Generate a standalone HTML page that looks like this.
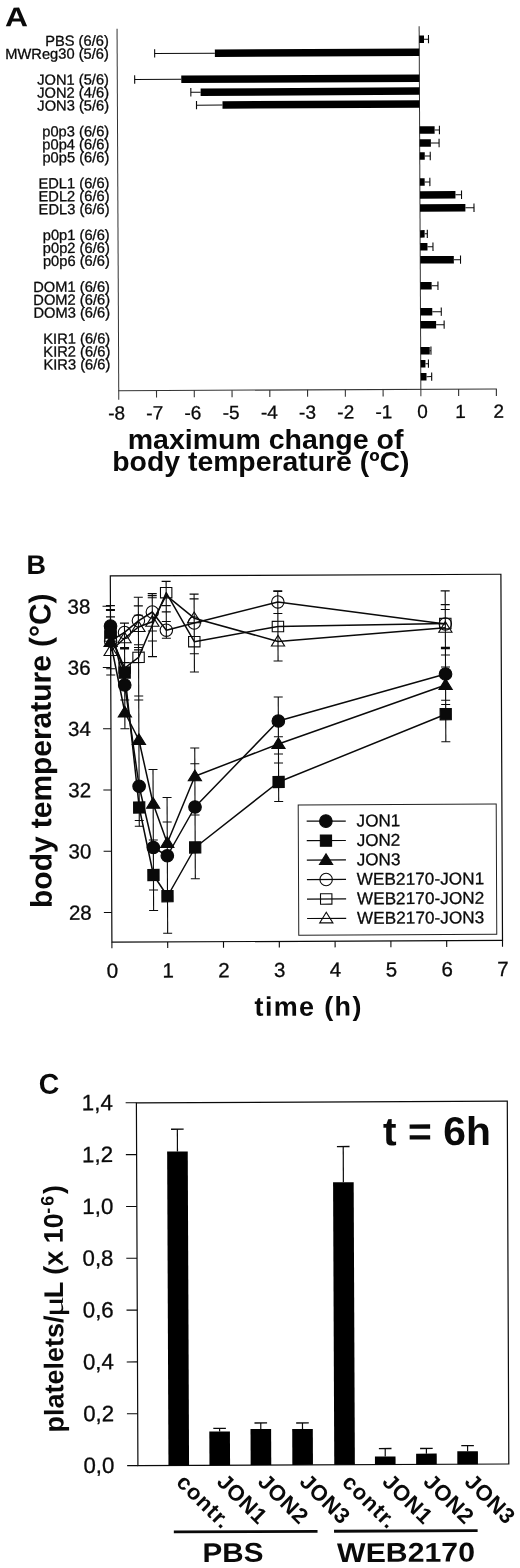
<!DOCTYPE html>
<html><head><meta charset="utf-8"><title>Figure</title>
<style>html,body{margin:0;padding:0;background:#fff;}svg{display:block;filter:grayscale(1);}text{font-family:"Liberation Sans", sans-serif;}</style></head><body>
<svg width="520" height="1568" viewBox="0 0 520 1568" font-family='"Liberation Sans", sans-serif'>
<rect x="0" y="0" width="520" height="1568" fill="#ffffff"/>
<g transform="rotate(-0.27 270 210)">
<text x="5.80" y="25.00" font-size="27" font-weight="bold" textLength="23.0" lengthAdjust="spacingAndGlyphs" fill="#0a0a0a">A</text>
<line x1="117.90" y1="28.00" x2="117.90" y2="399.00" stroke="#333" stroke-width="1.0" stroke-linecap="butt"/>
<line x1="420.00" y1="27.00" x2="420.00" y2="397.00" stroke="#333" stroke-width="1.0" stroke-linecap="butt"/>
<line x1="117.40" y1="390.00" x2="496.02" y2="390.00" stroke="#333" stroke-width="1.1" stroke-linecap="butt"/>
<line x1="155.66" y1="390.00" x2="155.66" y2="397.00" stroke="#333" stroke-width="1.1" stroke-linecap="butt"/>
<line x1="193.42" y1="390.00" x2="193.42" y2="397.00" stroke="#333" stroke-width="1.1" stroke-linecap="butt"/>
<line x1="231.19" y1="390.00" x2="231.19" y2="397.00" stroke="#333" stroke-width="1.1" stroke-linecap="butt"/>
<line x1="268.95" y1="390.00" x2="268.95" y2="397.00" stroke="#333" stroke-width="1.1" stroke-linecap="butt"/>
<line x1="306.71" y1="390.00" x2="306.71" y2="397.00" stroke="#333" stroke-width="1.1" stroke-linecap="butt"/>
<line x1="344.48" y1="390.00" x2="344.48" y2="397.00" stroke="#333" stroke-width="1.1" stroke-linecap="butt"/>
<line x1="382.24" y1="390.00" x2="382.24" y2="397.00" stroke="#333" stroke-width="1.1" stroke-linecap="butt"/>
<line x1="457.76" y1="390.00" x2="457.76" y2="397.00" stroke="#333" stroke-width="1.1" stroke-linecap="butt"/>
<line x1="495.52" y1="390.00" x2="495.52" y2="397.00" stroke="#333" stroke-width="1.1" stroke-linecap="butt"/>
<text x="115.60" y="418.80" font-size="19" text-anchor="middle" fill="#0a0a0a" stroke="#0a0a0a" stroke-width="0.3">-8</text>
<text x="153.80" y="418.80" font-size="19" text-anchor="middle" fill="#0a0a0a" stroke="#0a0a0a" stroke-width="0.3">-7</text>
<text x="192.00" y="418.80" font-size="19" text-anchor="middle" fill="#0a0a0a" stroke="#0a0a0a" stroke-width="0.3">-6</text>
<text x="230.20" y="418.80" font-size="19" text-anchor="middle" fill="#0a0a0a" stroke="#0a0a0a" stroke-width="0.3">-5</text>
<text x="268.40" y="418.80" font-size="19" text-anchor="middle" fill="#0a0a0a" stroke="#0a0a0a" stroke-width="0.3">-4</text>
<text x="306.60" y="418.80" font-size="19" text-anchor="middle" fill="#0a0a0a" stroke="#0a0a0a" stroke-width="0.3">-3</text>
<text x="344.80" y="418.80" font-size="19" text-anchor="middle" fill="#0a0a0a" stroke="#0a0a0a" stroke-width="0.3">-2</text>
<text x="383.00" y="418.80" font-size="19" text-anchor="middle" fill="#0a0a0a" stroke="#0a0a0a" stroke-width="0.3">-1</text>
<text x="421.60" y="418.80" font-size="19" text-anchor="middle" fill="#0a0a0a" stroke="#0a0a0a" stroke-width="0.3">0</text>
<text x="459.66" y="418.80" font-size="19" text-anchor="middle" fill="#0a0a0a" stroke="#0a0a0a" stroke-width="0.3">1</text>
<text x="497.73" y="418.80" font-size="19" text-anchor="middle" fill="#0a0a0a" stroke="#0a0a0a" stroke-width="0.3">2</text>
<text x="109.60" y="44.90" font-size="14.7" text-anchor="end" fill="#0a0a0a" stroke="#0a0a0a" stroke-width="0.3">PBS (6/6)</text>
<text x="109.60" y="57.84" font-size="14.7" text-anchor="end" fill="#0a0a0a" stroke="#0a0a0a" stroke-width="0.3">MWReg30 (5/6)</text>
<text x="109.60" y="83.73" font-size="14.7" text-anchor="end" fill="#0a0a0a" stroke="#0a0a0a" stroke-width="0.3">JON1 (5/6)</text>
<text x="109.60" y="96.68" font-size="14.7" text-anchor="end" fill="#0a0a0a" stroke="#0a0a0a" stroke-width="0.3">JON2 (4/6)</text>
<text x="109.60" y="109.62" font-size="14.7" text-anchor="end" fill="#0a0a0a" stroke="#0a0a0a" stroke-width="0.3">JON3 (5/6)</text>
<text x="109.60" y="135.52" font-size="14.7" text-anchor="end" fill="#0a0a0a" stroke="#0a0a0a" stroke-width="0.3">p0p3 (6/6)</text>
<text x="109.60" y="148.46" font-size="14.7" text-anchor="end" fill="#0a0a0a" stroke="#0a0a0a" stroke-width="0.3">p0p4 (6/6)</text>
<text x="109.60" y="161.41" font-size="14.7" text-anchor="end" fill="#0a0a0a" stroke="#0a0a0a" stroke-width="0.3">p0p5 (6/6)</text>
<text x="109.60" y="187.30" font-size="14.7" text-anchor="end" fill="#0a0a0a" stroke="#0a0a0a" stroke-width="0.3">EDL1 (6/6)</text>
<text x="109.60" y="200.24" font-size="14.7" text-anchor="end" fill="#0a0a0a" stroke="#0a0a0a" stroke-width="0.3">EDL2 (6/6)</text>
<text x="109.60" y="213.19" font-size="14.7" text-anchor="end" fill="#0a0a0a" stroke="#0a0a0a" stroke-width="0.3">EDL3 (6/6)</text>
<text x="109.60" y="239.08" font-size="14.7" text-anchor="end" fill="#0a0a0a" stroke="#0a0a0a" stroke-width="0.3">p0p1 (6/6)</text>
<text x="109.60" y="252.02" font-size="14.7" text-anchor="end" fill="#0a0a0a" stroke="#0a0a0a" stroke-width="0.3">p0p2 (6/6)</text>
<text x="109.60" y="264.96" font-size="14.7" text-anchor="end" fill="#0a0a0a" stroke="#0a0a0a" stroke-width="0.3">p0p6 (6/6)</text>
<text x="109.60" y="290.86" font-size="14.7" text-anchor="end" fill="#0a0a0a" stroke="#0a0a0a" stroke-width="0.3">DOM1 (6/6)</text>
<text x="109.60" y="303.80" font-size="14.7" text-anchor="end" fill="#0a0a0a" stroke="#0a0a0a" stroke-width="0.3">DOM2 (6/6)</text>
<text x="109.60" y="316.75" font-size="14.7" text-anchor="end" fill="#0a0a0a" stroke="#0a0a0a" stroke-width="0.3">DOM3 (6/6)</text>
<text x="109.60" y="342.63" font-size="14.7" text-anchor="end" fill="#0a0a0a" stroke="#0a0a0a" stroke-width="0.3">KIR1 (6/6)</text>
<text x="109.60" y="355.58" font-size="14.7" text-anchor="end" fill="#0a0a0a" stroke="#0a0a0a" stroke-width="0.3">KIR2 (6/6)</text>
<text x="109.60" y="368.52" font-size="14.7" text-anchor="end" fill="#0a0a0a" stroke="#0a0a0a" stroke-width="0.3">KIR3 (6/6)</text>
<rect x="420.00" y="36.15" width="4.80" height="7.50" fill="#000"/>
<line x1="424.80" y1="39.90" x2="429.30" y2="39.90" stroke="#0a0a0a" stroke-width="1.0" stroke-linecap="butt"/>
<line x1="429.30" y1="35.70" x2="429.30" y2="44.10" stroke="#0a0a0a" stroke-width="1.1" stroke-linecap="butt"/>
<rect x="215.60" y="49.13" width="204.40" height="7.50" fill="#000"/>
<line x1="215.60" y1="52.88" x2="155.40" y2="52.88" stroke="#0a0a0a" stroke-width="1.0" stroke-linecap="butt"/>
<line x1="155.40" y1="48.68" x2="155.40" y2="57.08" stroke="#0a0a0a" stroke-width="1.1" stroke-linecap="butt"/>
<rect x="181.90" y="75.09" width="238.10" height="7.50" fill="#000"/>
<line x1="181.90" y1="78.84" x2="135.30" y2="78.84" stroke="#0a0a0a" stroke-width="1.0" stroke-linecap="butt"/>
<line x1="135.30" y1="74.64" x2="135.30" y2="83.04" stroke="#0a0a0a" stroke-width="1.1" stroke-linecap="butt"/>
<rect x="201.20" y="88.07" width="218.80" height="7.50" fill="#000"/>
<line x1="201.20" y1="91.82" x2="191.40" y2="91.82" stroke="#0a0a0a" stroke-width="1.0" stroke-linecap="butt"/>
<line x1="191.40" y1="87.62" x2="191.40" y2="96.02" stroke="#0a0a0a" stroke-width="1.1" stroke-linecap="butt"/>
<rect x="223.00" y="101.05" width="197.00" height="7.50" fill="#000"/>
<line x1="223.00" y1="104.80" x2="197.00" y2="104.80" stroke="#0a0a0a" stroke-width="1.0" stroke-linecap="butt"/>
<line x1="197.00" y1="100.60" x2="197.00" y2="109.00" stroke="#0a0a0a" stroke-width="1.1" stroke-linecap="butt"/>
<rect x="420.00" y="127.01" width="15.00" height="7.50" fill="#000"/>
<line x1="435.00" y1="130.76" x2="439.80" y2="130.76" stroke="#0a0a0a" stroke-width="1.0" stroke-linecap="butt"/>
<line x1="439.80" y1="126.56" x2="439.80" y2="134.96" stroke="#0a0a0a" stroke-width="1.1" stroke-linecap="butt"/>
<rect x="420.00" y="139.99" width="11.20" height="7.50" fill="#000"/>
<line x1="431.20" y1="143.74" x2="439.40" y2="143.74" stroke="#0a0a0a" stroke-width="1.0" stroke-linecap="butt"/>
<line x1="439.40" y1="139.54" x2="439.40" y2="147.94" stroke="#0a0a0a" stroke-width="1.1" stroke-linecap="butt"/>
<rect x="420.00" y="152.97" width="5.00" height="7.50" fill="#000"/>
<line x1="425.00" y1="156.72" x2="430.50" y2="156.72" stroke="#0a0a0a" stroke-width="1.0" stroke-linecap="butt"/>
<line x1="430.50" y1="152.52" x2="430.50" y2="160.92" stroke="#0a0a0a" stroke-width="1.1" stroke-linecap="butt"/>
<rect x="420.00" y="178.93" width="4.80" height="7.50" fill="#000"/>
<line x1="424.80" y1="182.68" x2="430.00" y2="182.68" stroke="#0a0a0a" stroke-width="1.0" stroke-linecap="butt"/>
<line x1="430.00" y1="178.48" x2="430.00" y2="186.88" stroke="#0a0a0a" stroke-width="1.1" stroke-linecap="butt"/>
<rect x="420.00" y="191.91" width="35.50" height="7.50" fill="#000"/>
<line x1="455.50" y1="195.66" x2="461.60" y2="195.66" stroke="#0a0a0a" stroke-width="1.0" stroke-linecap="butt"/>
<line x1="461.60" y1="191.46" x2="461.60" y2="199.86" stroke="#0a0a0a" stroke-width="1.1" stroke-linecap="butt"/>
<rect x="420.00" y="204.89" width="45.40" height="7.50" fill="#000"/>
<line x1="465.40" y1="208.64" x2="474.00" y2="208.64" stroke="#0a0a0a" stroke-width="1.0" stroke-linecap="butt"/>
<line x1="474.00" y1="204.44" x2="474.00" y2="212.84" stroke="#0a0a0a" stroke-width="1.1" stroke-linecap="butt"/>
<rect x="420.00" y="230.85" width="4.50" height="7.50" fill="#000"/>
<line x1="424.50" y1="234.60" x2="427.20" y2="234.60" stroke="#0a0a0a" stroke-width="1.0" stroke-linecap="butt"/>
<line x1="427.20" y1="230.40" x2="427.20" y2="238.80" stroke="#0a0a0a" stroke-width="1.1" stroke-linecap="butt"/>
<rect x="420.00" y="243.83" width="7.30" height="7.50" fill="#000"/>
<line x1="427.30" y1="247.58" x2="432.80" y2="247.58" stroke="#0a0a0a" stroke-width="1.0" stroke-linecap="butt"/>
<line x1="432.80" y1="243.38" x2="432.80" y2="251.78" stroke="#0a0a0a" stroke-width="1.1" stroke-linecap="butt"/>
<rect x="420.00" y="256.81" width="33.60" height="7.50" fill="#000"/>
<line x1="453.60" y1="260.56" x2="460.30" y2="260.56" stroke="#0a0a0a" stroke-width="1.0" stroke-linecap="butt"/>
<line x1="460.30" y1="256.36" x2="460.30" y2="264.76" stroke="#0a0a0a" stroke-width="1.1" stroke-linecap="butt"/>
<rect x="420.00" y="282.77" width="11.30" height="7.50" fill="#000"/>
<line x1="431.30" y1="286.52" x2="437.60" y2="286.52" stroke="#0a0a0a" stroke-width="1.0" stroke-linecap="butt"/>
<line x1="437.60" y1="282.32" x2="437.60" y2="290.72" stroke="#0a0a0a" stroke-width="1.1" stroke-linecap="butt"/>
<rect x="420.00" y="308.73" width="11.80" height="7.50" fill="#000"/>
<line x1="431.80" y1="312.48" x2="440.80" y2="312.48" stroke="#0a0a0a" stroke-width="1.0" stroke-linecap="butt"/>
<line x1="440.80" y1="308.28" x2="440.80" y2="316.68" stroke="#0a0a0a" stroke-width="1.1" stroke-linecap="butt"/>
<rect x="420.00" y="321.71" width="15.60" height="7.50" fill="#000"/>
<line x1="435.60" y1="325.46" x2="443.60" y2="325.46" stroke="#0a0a0a" stroke-width="1.0" stroke-linecap="butt"/>
<line x1="443.60" y1="321.26" x2="443.60" y2="329.66" stroke="#0a0a0a" stroke-width="1.1" stroke-linecap="butt"/>
<rect x="420.00" y="347.67" width="9.10" height="7.50" fill="#000"/>
<line x1="429.10" y1="351.42" x2="430.30" y2="351.42" stroke="#0a0a0a" stroke-width="1.0" stroke-linecap="butt"/>
<line x1="430.30" y1="347.22" x2="430.30" y2="355.62" stroke="#0a0a0a" stroke-width="1.1" stroke-linecap="butt"/>
<rect x="420.00" y="360.65" width="4.70" height="7.50" fill="#000"/>
<line x1="424.70" y1="364.40" x2="427.70" y2="364.40" stroke="#0a0a0a" stroke-width="1.0" stroke-linecap="butt"/>
<line x1="427.70" y1="360.20" x2="427.70" y2="368.60" stroke="#0a0a0a" stroke-width="1.1" stroke-linecap="butt"/>
<rect x="420.00" y="373.63" width="5.70" height="7.50" fill="#000"/>
<line x1="425.70" y1="377.38" x2="430.90" y2="377.38" stroke="#0a0a0a" stroke-width="1.0" stroke-linecap="butt"/>
<line x1="430.90" y1="373.18" x2="430.90" y2="381.58" stroke="#0a0a0a" stroke-width="1.1" stroke-linecap="butt"/>
</g>
<text x="127.70" y="449.00" font-size="27" font-weight="bold" textLength="275.7" lengthAdjust="spacingAndGlyphs" fill="#0a0a0a">maximum change of</text>
<text x="112.30" y="471.20" font-size="27" font-weight="bold" textLength="297.2" lengthAdjust="spacingAndGlyphs" fill="#0a0a0a">body temperature (ºC)</text>
<g transform="rotate(-0.25 306.4 758.2)">
<text x="27.20" y="572.70" font-size="27" font-weight="bold" textLength="19.5" lengthAdjust="spacingAndGlyphs" fill="#0a0a0a">B</text>
<rect x="111.10" y="575.10" width="390.60" height="366.20" fill="none" stroke="#0a0a0a" stroke-width="1.2"/>
<line x1="103.20" y1="911.60" x2="111.10" y2="911.60" stroke="#0a0a0a" stroke-width="1.1" stroke-linecap="butt"/>
<text x="91.00" y="918.80" font-size="20.5" text-anchor="end" fill="#0a0a0a" stroke="#0a0a0a" stroke-width="0.3">28</text>
<line x1="103.20" y1="850.36" x2="111.10" y2="850.36" stroke="#0a0a0a" stroke-width="1.1" stroke-linecap="butt"/>
<text x="91.00" y="857.56" font-size="20.5" text-anchor="end" fill="#0a0a0a" stroke="#0a0a0a" stroke-width="0.3">30</text>
<line x1="103.20" y1="789.12" x2="111.10" y2="789.12" stroke="#0a0a0a" stroke-width="1.1" stroke-linecap="butt"/>
<text x="91.00" y="796.32" font-size="20.5" text-anchor="end" fill="#0a0a0a" stroke="#0a0a0a" stroke-width="0.3">32</text>
<line x1="103.20" y1="727.88" x2="111.10" y2="727.88" stroke="#0a0a0a" stroke-width="1.1" stroke-linecap="butt"/>
<text x="91.00" y="735.08" font-size="20.5" text-anchor="end" fill="#0a0a0a" stroke="#0a0a0a" stroke-width="0.3">34</text>
<line x1="103.20" y1="666.64" x2="111.10" y2="666.64" stroke="#0a0a0a" stroke-width="1.1" stroke-linecap="butt"/>
<text x="91.00" y="673.84" font-size="20.5" text-anchor="end" fill="#0a0a0a" stroke="#0a0a0a" stroke-width="0.3">36</text>
<line x1="103.20" y1="605.40" x2="111.10" y2="605.40" stroke="#0a0a0a" stroke-width="1.1" stroke-linecap="butt"/>
<text x="91.00" y="612.60" font-size="20.5" text-anchor="end" fill="#0a0a0a" stroke="#0a0a0a" stroke-width="0.3">38</text>
<line x1="111.10" y1="941.30" x2="111.10" y2="947.50" stroke="#0a0a0a" stroke-width="1.1" stroke-linecap="butt"/>
<text x="111.40" y="976.80" font-size="20.5" text-anchor="middle" fill="#0a0a0a" stroke="#0a0a0a" stroke-width="0.3">0</text>
<line x1="166.90" y1="941.30" x2="166.90" y2="947.50" stroke="#0a0a0a" stroke-width="1.1" stroke-linecap="butt"/>
<text x="167.20" y="976.80" font-size="20.5" text-anchor="middle" fill="#0a0a0a" stroke="#0a0a0a" stroke-width="0.3">1</text>
<line x1="222.70" y1="941.30" x2="222.70" y2="947.50" stroke="#0a0a0a" stroke-width="1.1" stroke-linecap="butt"/>
<text x="223.00" y="976.80" font-size="20.5" text-anchor="middle" fill="#0a0a0a" stroke="#0a0a0a" stroke-width="0.3">2</text>
<line x1="278.50" y1="941.30" x2="278.50" y2="947.50" stroke="#0a0a0a" stroke-width="1.1" stroke-linecap="butt"/>
<text x="278.80" y="976.80" font-size="20.5" text-anchor="middle" fill="#0a0a0a" stroke="#0a0a0a" stroke-width="0.3">3</text>
<line x1="334.30" y1="941.30" x2="334.30" y2="947.50" stroke="#0a0a0a" stroke-width="1.1" stroke-linecap="butt"/>
<text x="334.60" y="976.80" font-size="20.5" text-anchor="middle" fill="#0a0a0a" stroke="#0a0a0a" stroke-width="0.3">4</text>
<line x1="390.10" y1="941.30" x2="390.10" y2="947.50" stroke="#0a0a0a" stroke-width="1.1" stroke-linecap="butt"/>
<text x="390.40" y="976.80" font-size="20.5" text-anchor="middle" fill="#0a0a0a" stroke="#0a0a0a" stroke-width="0.3">5</text>
<line x1="445.90" y1="941.30" x2="445.90" y2="947.50" stroke="#0a0a0a" stroke-width="1.1" stroke-linecap="butt"/>
<text x="446.20" y="976.80" font-size="20.5" text-anchor="middle" fill="#0a0a0a" stroke="#0a0a0a" stroke-width="0.3">6</text>
<line x1="501.70" y1="941.30" x2="501.70" y2="947.50" stroke="#0a0a0a" stroke-width="1.1" stroke-linecap="butt"/>
<text x="502.00" y="976.80" font-size="20.5" text-anchor="middle" fill="#0a0a0a" stroke="#0a0a0a" stroke-width="0.3">7</text>
<text x="253.50" y="1015.60" font-size="27" font-weight="bold" textLength="106.8" lengthAdjust="spacing" fill="#0a0a0a">time (h)</text>
<text transform="translate(51.0 906.8) rotate(-90)" font-size="30" font-weight="bold" textLength="314.5" lengthAdjust="spacing" fill="#0a0a0a">body temperature (°C)</text>
<line x1="111.10" y1="604.75" x2="111.10" y2="674.15" stroke="#0a0a0a" stroke-width="1.1" stroke-linecap="butt"/>
<line x1="106.60" y1="604.75" x2="115.60" y2="604.75" stroke="#0a0a0a" stroke-width="1.1" stroke-linecap="butt"/>
<line x1="106.60" y1="609.15" x2="115.60" y2="609.15" stroke="#0a0a0a" stroke-width="2.2" stroke-linecap="butt"/>
<line x1="106.60" y1="616.05" x2="115.60" y2="616.05" stroke="#0a0a0a" stroke-width="1.1" stroke-linecap="butt"/>
<line x1="106.60" y1="667.90" x2="115.60" y2="667.90" stroke="#0a0a0a" stroke-width="1.1" stroke-linecap="butt"/>
<line x1="106.60" y1="674.15" x2="115.60" y2="674.15" stroke="#0a0a0a" stroke-width="1.1" stroke-linecap="butt"/>
<line x1="125.05" y1="622.31" x2="125.05" y2="727.96" stroke="#0a0a0a" stroke-width="1.1" stroke-linecap="butt"/>
<line x1="120.55" y1="622.31" x2="129.55" y2="622.31" stroke="#0a0a0a" stroke-width="1.1" stroke-linecap="butt"/>
<line x1="120.55" y1="647.41" x2="129.55" y2="647.41" stroke="#0a0a0a" stroke-width="2.4" stroke-linecap="butt"/>
<line x1="120.55" y1="661.71" x2="129.55" y2="661.71" stroke="#0a0a0a" stroke-width="1.1" stroke-linecap="butt"/>
<line x1="120.55" y1="699.21" x2="129.55" y2="699.21" stroke="#0a0a0a" stroke-width="1.1" stroke-linecap="butt"/>
<line x1="120.55" y1="727.96" x2="129.55" y2="727.96" stroke="#0a0a0a" stroke-width="1.1" stroke-linecap="butt"/>
<line x1="139.00" y1="596.47" x2="139.00" y2="825.52" stroke="#0a0a0a" stroke-width="1.1" stroke-linecap="butt"/>
<line x1="134.50" y1="596.47" x2="143.50" y2="596.47" stroke="#0a0a0a" stroke-width="1.1" stroke-linecap="butt"/>
<line x1="134.50" y1="605.17" x2="143.50" y2="605.17" stroke="#0a0a0a" stroke-width="1.1" stroke-linecap="butt"/>
<line x1="134.50" y1="614.47" x2="143.50" y2="614.47" stroke="#0a0a0a" stroke-width="1.1" stroke-linecap="butt"/>
<line x1="134.50" y1="644.07" x2="143.50" y2="644.07" stroke="#0a0a0a" stroke-width="1.1" stroke-linecap="butt"/>
<line x1="134.50" y1="646.77" x2="143.50" y2="646.77" stroke="#0a0a0a" stroke-width="1.1" stroke-linecap="butt"/>
<line x1="134.50" y1="649.17" x2="143.50" y2="649.17" stroke="#0a0a0a" stroke-width="1.1" stroke-linecap="butt"/>
<line x1="134.50" y1="695.27" x2="143.50" y2="695.27" stroke="#0a0a0a" stroke-width="1.1" stroke-linecap="butt"/>
<line x1="134.50" y1="699.27" x2="143.50" y2="699.27" stroke="#0a0a0a" stroke-width="1.1" stroke-linecap="butt"/>
<line x1="134.50" y1="819.77" x2="143.50" y2="819.77" stroke="#0a0a0a" stroke-width="1.1" stroke-linecap="butt"/>
<line x1="134.50" y1="825.52" x2="143.50" y2="825.52" stroke="#0a0a0a" stroke-width="1.1" stroke-linecap="butt"/>
<line x1="152.95" y1="592.93" x2="152.95" y2="655.93" stroke="#0a0a0a" stroke-width="1.1" stroke-linecap="butt"/>
<line x1="152.95" y1="768.83" x2="152.95" y2="909.83" stroke="#0a0a0a" stroke-width="1.1" stroke-linecap="butt"/>
<line x1="148.45" y1="592.93" x2="157.45" y2="592.93" stroke="#0a0a0a" stroke-width="1.1" stroke-linecap="butt"/>
<line x1="148.45" y1="594.93" x2="157.45" y2="594.93" stroke="#0a0a0a" stroke-width="1.1" stroke-linecap="butt"/>
<line x1="148.45" y1="597.13" x2="157.45" y2="597.13" stroke="#0a0a0a" stroke-width="1.1" stroke-linecap="butt"/>
<line x1="148.45" y1="630.33" x2="157.45" y2="630.33" stroke="#0a0a0a" stroke-width="1.1" stroke-linecap="butt"/>
<line x1="148.45" y1="640.33" x2="157.45" y2="640.33" stroke="#0a0a0a" stroke-width="1.1" stroke-linecap="butt"/>
<line x1="148.45" y1="655.93" x2="157.45" y2="655.93" stroke="#0a0a0a" stroke-width="1.1" stroke-linecap="butt"/>
<line x1="148.45" y1="768.83" x2="157.45" y2="768.83" stroke="#0a0a0a" stroke-width="1.1" stroke-linecap="butt"/>
<line x1="148.45" y1="839.33" x2="157.45" y2="839.33" stroke="#0a0a0a" stroke-width="1.1" stroke-linecap="butt"/>
<line x1="148.45" y1="889.33" x2="157.45" y2="889.33" stroke="#0a0a0a" stroke-width="1.1" stroke-linecap="butt"/>
<line x1="148.45" y1="909.83" x2="157.45" y2="909.83" stroke="#0a0a0a" stroke-width="1.1" stroke-linecap="butt"/>
<line x1="166.90" y1="580.79" x2="166.90" y2="637.69" stroke="#0a0a0a" stroke-width="1.1" stroke-linecap="butt"/>
<line x1="166.90" y1="796.89" x2="166.90" y2="932.64" stroke="#0a0a0a" stroke-width="1.1" stroke-linecap="butt"/>
<line x1="162.40" y1="580.79" x2="171.40" y2="580.79" stroke="#0a0a0a" stroke-width="1.1" stroke-linecap="butt"/>
<line x1="162.40" y1="605.04" x2="171.40" y2="605.04" stroke="#0a0a0a" stroke-width="1.1" stroke-linecap="butt"/>
<line x1="162.40" y1="611.29" x2="171.40" y2="611.29" stroke="#0a0a0a" stroke-width="1.1" stroke-linecap="butt"/>
<line x1="162.40" y1="620.89" x2="171.40" y2="620.89" stroke="#0a0a0a" stroke-width="1.1" stroke-linecap="butt"/>
<line x1="162.40" y1="637.69" x2="171.40" y2="637.69" stroke="#0a0a0a" stroke-width="1.1" stroke-linecap="butt"/>
<line x1="162.40" y1="796.89" x2="171.40" y2="796.89" stroke="#0a0a0a" stroke-width="1.1" stroke-linecap="butt"/>
<line x1="162.40" y1="821.39" x2="171.40" y2="821.39" stroke="#0a0a0a" stroke-width="1.1" stroke-linecap="butt"/>
<line x1="162.40" y1="932.64" x2="171.40" y2="932.64" stroke="#0a0a0a" stroke-width="1.1" stroke-linecap="butt"/>
<line x1="194.80" y1="593.61" x2="194.80" y2="671.51" stroke="#0a0a0a" stroke-width="1.1" stroke-linecap="butt"/>
<line x1="194.80" y1="747.51" x2="194.80" y2="878.26" stroke="#0a0a0a" stroke-width="1.1" stroke-linecap="butt"/>
<line x1="190.30" y1="593.61" x2="199.30" y2="593.61" stroke="#0a0a0a" stroke-width="1.1" stroke-linecap="butt"/>
<line x1="190.30" y1="598.41" x2="199.30" y2="598.41" stroke="#0a0a0a" stroke-width="1.1" stroke-linecap="butt"/>
<line x1="190.30" y1="653.26" x2="199.30" y2="653.26" stroke="#0a0a0a" stroke-width="1.1" stroke-linecap="butt"/>
<line x1="190.30" y1="671.51" x2="199.30" y2="671.51" stroke="#0a0a0a" stroke-width="1.1" stroke-linecap="butt"/>
<line x1="190.30" y1="747.51" x2="199.30" y2="747.51" stroke="#0a0a0a" stroke-width="1.1" stroke-linecap="butt"/>
<line x1="190.30" y1="763.26" x2="199.30" y2="763.26" stroke="#0a0a0a" stroke-width="1.1" stroke-linecap="butt"/>
<line x1="190.30" y1="814.51" x2="199.30" y2="814.51" stroke="#0a0a0a" stroke-width="1.1" stroke-linecap="butt"/>
<line x1="190.30" y1="878.26" x2="199.30" y2="878.26" stroke="#0a0a0a" stroke-width="1.1" stroke-linecap="butt"/>
<line x1="278.50" y1="591.08" x2="278.50" y2="660.88" stroke="#0a0a0a" stroke-width="1.1" stroke-linecap="butt"/>
<line x1="278.50" y1="696.88" x2="278.50" y2="801.38" stroke="#0a0a0a" stroke-width="1.1" stroke-linecap="butt"/>
<line x1="274.00" y1="591.08" x2="283.00" y2="591.08" stroke="#0a0a0a" stroke-width="1.8" stroke-linecap="butt"/>
<line x1="274.00" y1="613.38" x2="283.00" y2="613.38" stroke="#0a0a0a" stroke-width="1.1" stroke-linecap="butt"/>
<line x1="274.00" y1="660.88" x2="283.00" y2="660.88" stroke="#0a0a0a" stroke-width="1.1" stroke-linecap="butt"/>
<line x1="274.00" y1="696.88" x2="283.00" y2="696.88" stroke="#0a0a0a" stroke-width="1.1" stroke-linecap="butt"/>
<line x1="274.00" y1="736.58" x2="283.00" y2="736.58" stroke="#0a0a0a" stroke-width="1.1" stroke-linecap="butt"/>
<line x1="274.00" y1="753.88" x2="283.00" y2="753.88" stroke="#0a0a0a" stroke-width="1.1" stroke-linecap="butt"/>
<line x1="274.00" y1="762.88" x2="283.00" y2="762.88" stroke="#0a0a0a" stroke-width="1.1" stroke-linecap="butt"/>
<line x1="274.00" y1="801.38" x2="283.00" y2="801.38" stroke="#0a0a0a" stroke-width="1.1" stroke-linecap="butt"/>
<line x1="445.90" y1="591.51" x2="445.90" y2="742.31" stroke="#0a0a0a" stroke-width="1.1" stroke-linecap="butt"/>
<line x1="441.40" y1="591.51" x2="450.40" y2="591.51" stroke="#0a0a0a" stroke-width="1.1" stroke-linecap="butt"/>
<line x1="441.40" y1="605.21" x2="450.40" y2="605.21" stroke="#0a0a0a" stroke-width="1.1" stroke-linecap="butt"/>
<line x1="441.40" y1="610.11" x2="450.40" y2="610.11" stroke="#0a0a0a" stroke-width="1.1" stroke-linecap="butt"/>
<line x1="441.40" y1="648.61" x2="450.40" y2="648.61" stroke="#0a0a0a" stroke-width="2.4" stroke-linecap="butt"/>
<line x1="441.40" y1="655.61" x2="450.40" y2="655.61" stroke="#0a0a0a" stroke-width="1.1" stroke-linecap="butt"/>
<line x1="441.40" y1="667.61" x2="450.40" y2="667.61" stroke="#0a0a0a" stroke-width="1.1" stroke-linecap="butt"/>
<line x1="441.40" y1="700.81" x2="450.40" y2="700.81" stroke="#0a0a0a" stroke-width="1.1" stroke-linecap="butt"/>
<line x1="441.40" y1="705.11" x2="450.40" y2="705.11" stroke="#0a0a0a" stroke-width="1.1" stroke-linecap="butt"/>
<line x1="441.40" y1="742.31" x2="450.40" y2="742.31" stroke="#0a0a0a" stroke-width="1.1" stroke-linecap="butt"/>
<polyline points="111.10,640.15 125.05,631.61 139.00,620.07 152.95,611.33 166.90,629.59 194.80,622.51 278.50,601.78 445.90,624.51" fill="none" stroke="#0a0a0a" stroke-width="1.5" stroke-linejoin="round"/>
<polyline points="111.10,635.15 125.05,667.21 139.00,656.67 152.95,624.33 166.90,592.09 194.80,641.21 278.50,626.38 445.90,624.11" fill="none" stroke="#0a0a0a" stroke-width="1.5" stroke-linejoin="round"/>
<polyline points="111.10,650.15 125.05,637.51 139.00,626.27 152.95,621.13 166.90,594.79 194.80,617.71 278.50,641.38 445.90,628.41" fill="none" stroke="#0a0a0a" stroke-width="1.5" stroke-linejoin="round"/>
<polyline points="111.10,625.15 125.05,684.21 139.00,785.52 152.95,846.83 166.90,855.14 194.80,806.51 278.50,720.88 445.90,674.61" fill="none" stroke="#0a0a0a" stroke-width="1.5" stroke-linejoin="round"/>
<polyline points="111.10,631.65 125.05,671.71 139.00,806.77 152.95,874.33 166.90,895.64 194.80,847.01 278.50,781.88 445.90,714.81" fill="none" stroke="#0a0a0a" stroke-width="1.5" stroke-linejoin="round"/>
<polyline points="111.10,641.15 125.05,711.71 139.00,739.27 152.95,803.08 166.90,842.39 194.80,775.76 278.50,743.88 445.90,685.61" fill="none" stroke="#0a0a0a" stroke-width="1.5" stroke-linejoin="round"/>
<circle cx="111.10" cy="640.15" r="6.2" fill="none" stroke="#0a0a0a" stroke-width="1.1"/>
<circle cx="125.05" cy="631.61" r="6.2" fill="none" stroke="#0a0a0a" stroke-width="1.1"/>
<circle cx="139.00" cy="620.07" r="6.2" fill="none" stroke="#0a0a0a" stroke-width="1.1"/>
<circle cx="152.95" cy="611.33" r="6.2" fill="none" stroke="#0a0a0a" stroke-width="1.1"/>
<circle cx="166.90" cy="629.59" r="6.2" fill="none" stroke="#0a0a0a" stroke-width="1.1"/>
<circle cx="194.80" cy="622.51" r="6.2" fill="none" stroke="#0a0a0a" stroke-width="1.1"/>
<circle cx="278.50" cy="601.78" r="6.2" fill="none" stroke="#0a0a0a" stroke-width="1.1"/>
<circle cx="445.90" cy="624.51" r="6.2" fill="none" stroke="#0a0a0a" stroke-width="1.1"/>
<rect x="105.40" y="629.95" width="11.4" height="10.4" fill="none" stroke="#0a0a0a" stroke-width="1.1"/>
<rect x="119.35" y="662.01" width="11.4" height="10.4" fill="none" stroke="#0a0a0a" stroke-width="1.1"/>
<rect x="133.30" y="651.47" width="11.4" height="10.4" fill="none" stroke="#0a0a0a" stroke-width="1.1"/>
<rect x="161.20" y="586.89" width="11.4" height="10.4" fill="none" stroke="#0a0a0a" stroke-width="1.1"/>
<rect x="189.10" y="636.01" width="11.4" height="10.4" fill="none" stroke="#0a0a0a" stroke-width="1.1"/>
<rect x="272.80" y="621.18" width="11.4" height="10.4" fill="none" stroke="#0a0a0a" stroke-width="1.1"/>
<rect x="440.20" y="618.91" width="11.4" height="10.4" fill="none" stroke="#0a0a0a" stroke-width="1.1"/>
<path d="M111.10 644.00 L117.70 654.60 L104.50 654.60 Z" fill="none" stroke="#0a0a0a" stroke-width="1.1" stroke-linejoin="miter"/>
<path d="M125.05 631.36 L131.65 641.96 L118.45 641.96 Z" fill="none" stroke="#0a0a0a" stroke-width="1.1" stroke-linejoin="miter"/>
<path d="M139.00 620.12 L145.60 630.72 L132.40 630.72 Z" fill="none" stroke="#0a0a0a" stroke-width="1.1" stroke-linejoin="miter"/>
<path d="M152.95 614.98 L159.55 625.58 L146.35 625.58 Z" fill="none" stroke="#0a0a0a" stroke-width="1.1" stroke-linejoin="miter"/>
<path d="M194.80 611.57 L201.40 622.17 L188.20 622.17 Z" fill="none" stroke="#0a0a0a" stroke-width="1.1" stroke-linejoin="miter"/>
<path d="M278.50 635.23 L285.10 645.83 L271.90 645.83 Z" fill="none" stroke="#0a0a0a" stroke-width="1.1" stroke-linejoin="miter"/>
<path d="M445.90 622.26 L452.50 632.86 L439.30 632.86 Z" fill="none" stroke="#0a0a0a" stroke-width="1.1" stroke-linejoin="miter"/>
<circle cx="111.10" cy="625.15" r="6.3" fill="#0a0a0a" stroke="#0a0a0a" stroke-width="1.1"/>
<circle cx="125.05" cy="684.21" r="6.3" fill="#0a0a0a" stroke="#0a0a0a" stroke-width="1.1"/>
<circle cx="139.00" cy="785.52" r="6.3" fill="#0a0a0a" stroke="#0a0a0a" stroke-width="1.1"/>
<circle cx="152.95" cy="846.83" r="6.3" fill="#0a0a0a" stroke="#0a0a0a" stroke-width="1.1"/>
<circle cx="166.90" cy="855.14" r="6.3" fill="#0a0a0a" stroke="#0a0a0a" stroke-width="1.1"/>
<circle cx="194.80" cy="806.51" r="6.3" fill="#0a0a0a" stroke="#0a0a0a" stroke-width="1.1"/>
<circle cx="278.50" cy="720.88" r="6.3" fill="#0a0a0a" stroke="#0a0a0a" stroke-width="1.1"/>
<circle cx="445.90" cy="674.61" r="6.3" fill="#0a0a0a" stroke="#0a0a0a" stroke-width="1.1"/>
<rect x="105.50" y="626.05" width="11.2" height="11.2" fill="#0a0a0a" stroke="#0a0a0a" stroke-width="1.1"/>
<rect x="119.45" y="666.11" width="11.2" height="11.2" fill="#0a0a0a" stroke="#0a0a0a" stroke-width="1.1"/>
<rect x="133.40" y="801.17" width="11.2" height="11.2" fill="#0a0a0a" stroke="#0a0a0a" stroke-width="1.1"/>
<rect x="147.35" y="868.73" width="11.2" height="11.2" fill="#0a0a0a" stroke="#0a0a0a" stroke-width="1.1"/>
<rect x="161.30" y="890.04" width="11.2" height="11.2" fill="#0a0a0a" stroke="#0a0a0a" stroke-width="1.1"/>
<rect x="189.20" y="841.41" width="11.2" height="11.2" fill="#0a0a0a" stroke="#0a0a0a" stroke-width="1.1"/>
<rect x="272.90" y="776.28" width="11.2" height="11.2" fill="#0a0a0a" stroke="#0a0a0a" stroke-width="1.1"/>
<rect x="440.30" y="709.21" width="11.2" height="11.2" fill="#0a0a0a" stroke="#0a0a0a" stroke-width="1.1"/>
<path d="M111.10 635.00 L117.70 645.60 L104.50 645.60 Z" fill="#0a0a0a" stroke="#0a0a0a" stroke-width="1.1" stroke-linejoin="miter"/>
<path d="M125.05 705.56 L131.65 716.16 L118.45 716.16 Z" fill="#0a0a0a" stroke="#0a0a0a" stroke-width="1.1" stroke-linejoin="miter"/>
<path d="M139.00 733.12 L145.60 743.72 L132.40 743.72 Z" fill="#0a0a0a" stroke="#0a0a0a" stroke-width="1.1" stroke-linejoin="miter"/>
<path d="M152.95 796.93 L159.55 807.53 L146.35 807.53 Z" fill="#0a0a0a" stroke="#0a0a0a" stroke-width="1.1" stroke-linejoin="miter"/>
<path d="M166.90 836.25 L173.50 846.85 L160.30 846.85 Z" fill="#0a0a0a" stroke="#0a0a0a" stroke-width="1.1" stroke-linejoin="miter"/>
<path d="M194.80 769.62 L201.40 780.22 L188.20 780.22 Z" fill="#0a0a0a" stroke="#0a0a0a" stroke-width="1.1" stroke-linejoin="miter"/>
<path d="M278.50 737.73 L285.10 748.33 L271.90 748.33 Z" fill="#0a0a0a" stroke="#0a0a0a" stroke-width="1.1" stroke-linejoin="miter"/>
<path d="M445.90 679.46 L452.50 690.06 L439.30 690.06 Z" fill="#0a0a0a" stroke="#0a0a0a" stroke-width="1.1" stroke-linejoin="miter"/>
<rect x="298.00" y="804.90" width="198.00" height="130.20" fill="#fff" stroke="#222" stroke-width="1.0"/>
<line x1="306.40" y1="821.20" x2="345.50" y2="821.20" stroke="#0a0a0a" stroke-width="1.2" stroke-linecap="butt"/>
<circle cx="325.60" cy="821.20" r="6.3" fill="#0a0a0a" stroke="#0a0a0a" stroke-width="1.1"/>
<text x="356.30" y="826.70" font-size="17.1" fill="#0a0a0a" stroke="#0a0a0a" stroke-width="0.3">JON1</text>
<line x1="306.40" y1="840.66" x2="345.50" y2="840.66" stroke="#0a0a0a" stroke-width="1.2" stroke-linecap="butt"/>
<rect x="320.00" y="835.06" width="11.2" height="11.2" fill="#0a0a0a" stroke="#0a0a0a" stroke-width="1.1"/>
<text x="356.30" y="846.16" font-size="17.1" fill="#0a0a0a" stroke="#0a0a0a" stroke-width="0.3">JON2</text>
<line x1="306.40" y1="860.12" x2="345.50" y2="860.12" stroke="#0a0a0a" stroke-width="1.2" stroke-linecap="butt"/>
<path d="M325.60 853.97 L332.20 864.57 L319.00 864.57 Z" fill="#0a0a0a" stroke="#0a0a0a" stroke-width="1.1" stroke-linejoin="miter"/>
<text x="356.30" y="865.62" font-size="17.1" fill="#0a0a0a" stroke="#0a0a0a" stroke-width="0.3">JON3</text>
<line x1="306.40" y1="879.58" x2="345.50" y2="879.58" stroke="#0a0a0a" stroke-width="1.2" stroke-linecap="butt"/>
<circle cx="325.60" cy="879.58" r="6.2" fill="none" stroke="#0a0a0a" stroke-width="1.1"/>
<text x="356.30" y="885.08" font-size="17.1" textLength="127.3" lengthAdjust="spacing" fill="#0a0a0a" stroke="#0a0a0a" stroke-width="0.3">WEB2170-JON1</text>
<line x1="306.40" y1="899.04" x2="345.50" y2="899.04" stroke="#0a0a0a" stroke-width="1.2" stroke-linecap="butt"/>
<rect x="319.90" y="893.84" width="11.4" height="10.4" fill="none" stroke="#0a0a0a" stroke-width="1.1"/>
<text x="356.30" y="904.54" font-size="17.1" textLength="127.3" lengthAdjust="spacing" fill="#0a0a0a" stroke="#0a0a0a" stroke-width="0.3">WEB2170-JON2</text>
<line x1="306.40" y1="918.50" x2="345.50" y2="918.50" stroke="#0a0a0a" stroke-width="1.2" stroke-linecap="butt"/>
<path d="M325.60 912.35 L332.20 922.95 L319.00 922.95 Z" fill="none" stroke="#0a0a0a" stroke-width="1.1" stroke-linejoin="miter"/>
<text x="356.30" y="924.00" font-size="17.1" textLength="127.3" lengthAdjust="spacing" fill="#0a0a0a" stroke="#0a0a0a" stroke-width="0.3">WEB2170-JON3</text>
</g>
<g transform="rotate(-0.24 322.6 1283.4)">
<text x="39.60" y="1092.70" font-size="28.5" font-weight="bold" fill="#0a0a0a">C</text>
<rect x="137.15" y="1102.00" width="370.90" height="362.80" fill="none" stroke="#0a0a0a" stroke-width="1.2"/>
<line x1="126.40" y1="1464.80" x2="137.15" y2="1464.80" stroke="#0a0a0a" stroke-width="1.1" stroke-linecap="butt"/>
<text x="113.60" y="1472.10" font-size="22.3" text-anchor="end" fill="#0a0a0a" stroke="#0a0a0a" stroke-width="0.3">0,0</text>
<line x1="126.40" y1="1412.97" x2="137.15" y2="1412.97" stroke="#0a0a0a" stroke-width="1.1" stroke-linecap="butt"/>
<text x="113.60" y="1420.27" font-size="22.3" text-anchor="end" fill="#0a0a0a" stroke="#0a0a0a" stroke-width="0.3">0,2</text>
<line x1="126.40" y1="1361.14" x2="137.15" y2="1361.14" stroke="#0a0a0a" stroke-width="1.1" stroke-linecap="butt"/>
<text x="113.60" y="1368.44" font-size="22.3" text-anchor="end" fill="#0a0a0a" stroke="#0a0a0a" stroke-width="0.3">0,4</text>
<line x1="126.40" y1="1309.31" x2="137.15" y2="1309.31" stroke="#0a0a0a" stroke-width="1.1" stroke-linecap="butt"/>
<text x="113.60" y="1316.61" font-size="22.3" text-anchor="end" fill="#0a0a0a" stroke="#0a0a0a" stroke-width="0.3">0,6</text>
<line x1="126.40" y1="1257.49" x2="137.15" y2="1257.49" stroke="#0a0a0a" stroke-width="1.1" stroke-linecap="butt"/>
<text x="113.60" y="1264.79" font-size="22.3" text-anchor="end" fill="#0a0a0a" stroke="#0a0a0a" stroke-width="0.3">0,8</text>
<line x1="126.40" y1="1205.66" x2="137.15" y2="1205.66" stroke="#0a0a0a" stroke-width="1.1" stroke-linecap="butt"/>
<text x="113.60" y="1212.96" font-size="22.3" text-anchor="end" fill="#0a0a0a" stroke="#0a0a0a" stroke-width="0.3">1,0</text>
<line x1="126.40" y1="1153.83" x2="137.15" y2="1153.83" stroke="#0a0a0a" stroke-width="1.1" stroke-linecap="butt"/>
<text x="113.60" y="1161.13" font-size="22.3" text-anchor="end" fill="#0a0a0a" stroke="#0a0a0a" stroke-width="0.3">1,2</text>
<line x1="126.40" y1="1102.00" x2="137.15" y2="1102.00" stroke="#0a0a0a" stroke-width="1.1" stroke-linecap="butt"/>
<text x="113.60" y="1109.30" font-size="22.3" text-anchor="end" fill="#0a0a0a" stroke="#0a0a0a" stroke-width="0.3">1,4</text>
<text x="383.60" y="1145.50" font-size="40" font-weight="bold" textLength="108.0" lengthAdjust="spacingAndGlyphs" fill="#0a0a0a">t = 6h</text>
<rect x="167.70" y="1150.90" width="20.60" height="313.90" fill="#000"/>
<line x1="178.00" y1="1150.90" x2="178.00" y2="1128.60" stroke="#0a0a0a" stroke-width="1.2" stroke-linecap="butt"/>
<line x1="171.70" y1="1128.60" x2="184.30" y2="1128.60" stroke="#0a0a0a" stroke-width="1.3" stroke-linecap="butt"/>
<rect x="208.70" y="1431.10" width="20.60" height="33.70" fill="#000"/>
<line x1="219.00" y1="1431.10" x2="219.00" y2="1427.90" stroke="#0a0a0a" stroke-width="1.2" stroke-linecap="butt"/>
<line x1="212.70" y1="1427.90" x2="225.30" y2="1427.90" stroke="#0a0a0a" stroke-width="1.3" stroke-linecap="butt"/>
<rect x="249.90" y="1428.70" width="20.60" height="36.10" fill="#000"/>
<line x1="260.20" y1="1428.70" x2="260.20" y2="1422.70" stroke="#0a0a0a" stroke-width="1.2" stroke-linecap="butt"/>
<line x1="253.90" y1="1422.70" x2="266.50" y2="1422.70" stroke="#0a0a0a" stroke-width="1.3" stroke-linecap="butt"/>
<rect x="291.60" y="1428.90" width="20.60" height="35.90" fill="#000"/>
<line x1="301.90" y1="1428.90" x2="301.90" y2="1422.90" stroke="#0a0a0a" stroke-width="1.2" stroke-linecap="butt"/>
<line x1="295.60" y1="1422.90" x2="308.20" y2="1422.90" stroke="#0a0a0a" stroke-width="1.3" stroke-linecap="butt"/>
<rect x="333.50" y="1182.40" width="20.60" height="282.40" fill="#000"/>
<line x1="343.80" y1="1182.40" x2="343.80" y2="1146.60" stroke="#0a0a0a" stroke-width="1.2" stroke-linecap="butt"/>
<line x1="337.50" y1="1146.60" x2="350.10" y2="1146.60" stroke="#0a0a0a" stroke-width="1.3" stroke-linecap="butt"/>
<rect x="374.20" y="1456.80" width="20.60" height="8.00" fill="#000"/>
<line x1="384.50" y1="1456.80" x2="384.50" y2="1448.80" stroke="#0a0a0a" stroke-width="1.2" stroke-linecap="butt"/>
<line x1="378.20" y1="1448.80" x2="390.80" y2="1448.80" stroke="#0a0a0a" stroke-width="1.3" stroke-linecap="butt"/>
<rect x="415.40" y="1454.10" width="20.60" height="10.70" fill="#000"/>
<line x1="425.70" y1="1454.10" x2="425.70" y2="1448.90" stroke="#0a0a0a" stroke-width="1.2" stroke-linecap="butt"/>
<line x1="419.40" y1="1448.90" x2="432.00" y2="1448.90" stroke="#0a0a0a" stroke-width="1.3" stroke-linecap="butt"/>
<rect x="456.60" y="1451.90" width="20.60" height="12.90" fill="#000"/>
<line x1="466.90" y1="1451.90" x2="466.90" y2="1446.20" stroke="#0a0a0a" stroke-width="1.2" stroke-linecap="butt"/>
<line x1="460.60" y1="1446.20" x2="473.20" y2="1446.20" stroke="#0a0a0a" stroke-width="1.3" stroke-linecap="butt"/>
<text transform="translate(174.40 1482.99) rotate(45)" font-size="22" font-weight="bold" letter-spacing="1.1" fill="#0a0a0a">contr.</text>
<text transform="translate(214.80 1482.56) rotate(45)" font-size="22" font-weight="bold" letter-spacing="0.75" fill="#0a0a0a">JON1</text>
<text transform="translate(256.00 1482.74) rotate(45)" font-size="22" font-weight="bold" letter-spacing="0.75" fill="#0a0a0a">JON2</text>
<text transform="translate(297.70 1482.91) rotate(45)" font-size="22" font-weight="bold" letter-spacing="0.75" fill="#0a0a0a">JON3</text>
<text transform="translate(340.20 1483.69) rotate(45)" font-size="22" font-weight="bold" letter-spacing="1.1" fill="#0a0a0a">contr.</text>
<text transform="translate(380.30 1483.26) rotate(45)" font-size="22" font-weight="bold" letter-spacing="0.75" fill="#0a0a0a">JON1</text>
<text transform="translate(421.50 1483.43) rotate(45)" font-size="22" font-weight="bold" letter-spacing="0.75" fill="#0a0a0a">JON2</text>
<text transform="translate(462.70 1483.61) rotate(45)" font-size="22" font-weight="bold" letter-spacing="0.75" fill="#0a0a0a">JON3</text>
<line x1="172.80" y1="1531.30" x2="316.50" y2="1531.30" stroke="#0a0a0a" stroke-width="2.8" stroke-linecap="butt"/>
<line x1="333.00" y1="1531.30" x2="476.60" y2="1531.30" stroke="#0a0a0a" stroke-width="2.8" stroke-linecap="butt"/>
<text x="201.30" y="1561.50" font-size="27" font-weight="bold" textLength="61.0" lengthAdjust="spacingAndGlyphs" fill="#0a0a0a">PBS</text>
<text x="335.90" y="1562.10" font-size="27" font-weight="bold" textLength="138.0" lengthAdjust="spacingAndGlyphs" fill="#0a0a0a">WEB2170</text>
<g transform="translate(62.9 1431.5) rotate(-90)" font-size="27" font-weight="bold" fill="#0a0a0a"><text x="0" y="0">platelets/</text><text transform="translate(115.4 0) scale(1.38 1)" style="font-family:&quot;Liberation Serif&quot;,serif;font-weight:normal;font-size:29px">μ</text><text x="134.3" y="0">L (x 10</text><text x="219.0" y="-9.2" font-size="18" letter-spacing="2">-6</text><text x="238.6" y="0">)</text></g>
</g>
</svg></body></html>
